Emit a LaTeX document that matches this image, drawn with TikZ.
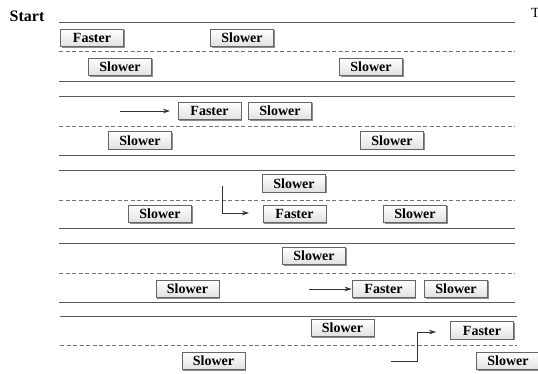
\documentclass[tikz,border=0pt]{standalone}
\usepackage{fontspec}
\setmainfont{Liberation Serif}
\usetikzlibrary{arrows.meta,shadows}
\begin{document}
\begin{tikzpicture}[x=1pt,y=-1pt,
  lane/.style={draw=black!65, line width=0.9pt},
  mid/.style={draw=black!55, line width=0.9pt, dash pattern=on 4pt off 2.5pt},
  car/.style={draw=black!60, line width=0.6pt, top color=white, bottom color=black!12,
    minimum width=63pt, minimum height=17.5pt, inner sep=0pt,
    font=\bfseries\fontsize{14}{14}\selectfont,
    drop shadow={shadow xshift=1.2pt, shadow yshift=-1.2pt, fill=black!45, opacity=1}},
  mv/.style={draw=black!80, line width=0.7pt, -{Stealth[length=7pt,width=4.5pt]}},
  lbl/.style={inner sep=0pt}]
\useasboundingbox (0,0) rectangle (538,373);

\node[lbl, font=\bfseries\fontsize{16}{16}\selectfont] (start) at (27,16) {Start};
\node[lbl, anchor=base west, font=\fontsize{14}{14}\selectfont] (tlab) at (531,17) {T};

% Section 1
\draw[lane] (59,22) -- (515,22);
\node[car] (f1) at (92,38) {Faster};
\node[car] (s1a) at (242,38) {Slower};
\draw[mid] (59,51.5) -- (515,51.5);
\node[car] (s1b) at (120,67) {Slower};
\node[car] (s1c) at (371,67) {Slower};
\draw[lane] (59,81) -- (515,81);

% Section 2
\draw[lane] (59,96.5) -- (515,96.5);
\coordinate (a2s) at (120,111);
\coordinate (a2e) at (170,111);
\draw[mv] (a2s) -- (a2e);
\node[car] (f2) at (209.5,111) {Faster};
\node[car] (s2a) at (280,111) {Slower};
\draw[mid] (59,126) -- (515,126);
\node[car] (s2b) at (140,140.5) {Slower};
\node[car] (s2c) at (392,140.5) {Slower};
\draw[lane] (59,155.5) -- (515,155.5);

% Section 3
\draw[lane] (59,170) -- (515,170);
\node[car] (s3a) at (294,183.5) {Slower};
\draw[mid] (59,200) -- (515,200);
\node[car] (s3b) at (160,214) {Slower};
\node[car] (f3) at (294.5,214) {Faster};
\node[car] (s3c) at (415,214) {Slower};
\coordinate (a3s) at (222.5,186);
\coordinate (a3e) at (249,213);
\draw[mv] (a3s) |- (a3e);
\draw[lane] (59,228.5) -- (515,228.5);

% Section 4
\draw[lane] (59,243.5) -- (515,243.5);
\node[car] (s4a) at (314,256) {Slower};
\draw[mid] (59,273) -- (515,273);
\node[car] (s4b) at (187.5,289) {Slower};
\node[car] (f4) at (383.5,289) {Faster};
\node[car] (s4c) at (456,289) {Slower};
\coordinate (a4s) at (309,289);
\draw[mv] (a4s) -- (f4.west);
\draw[lane] (59,302.5) -- (515,302.5);

% Section 5
\draw[lane] (60,316) -- (517,316);
\node[car] (s5a) at (342.5,328) {Slower};
\node[car] (f5) at (482,330.5) {Faster};
\draw[mid] (60,345) -- (517,345);
\node[car] (s5b) at (213.5,361) {Slower};
\node[car] (s5c) at (508,361) {Slower};
\coordinate (a5s) at (391,361);
\coordinate (a5m) at (417.5,361);
\coordinate (a5e) at (436,332);
\draw[mv] (a5s) -- (a5m) |- (a5e);
\end{tikzpicture}
\end{document}
